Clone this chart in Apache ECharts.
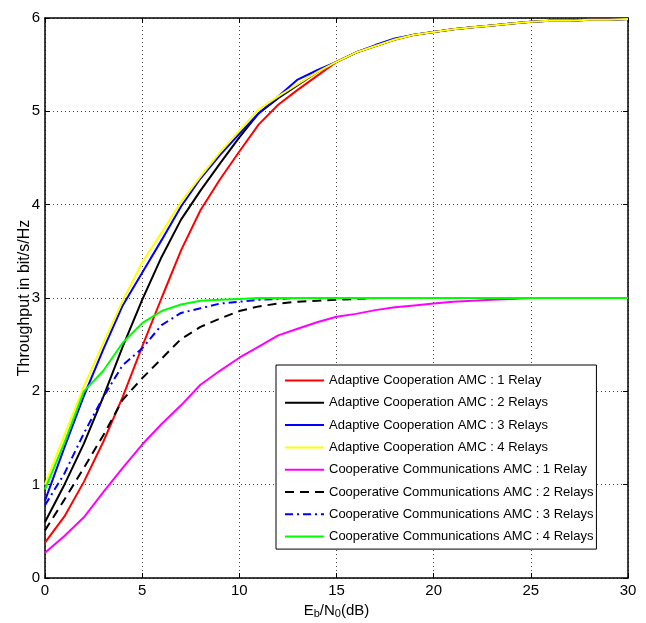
<!DOCTYPE html>
<html>
<head>
<meta charset="utf-8">
<script src="https://cdn.jsdelivr.net/npm/echarts@6/dist/echarts.min.js"></script>
<style>html,body{margin:0;padding:0;background:#fff}#c{width:646px;height:623px}</style>
</head>
<body>
<div id="c"></div>
<script>
var xValues = [0,1,2,3,4,5,6,7,8,9,10,11,12,13,14,15,16,17,18,19,20,21,22,23,24,25,26,27,28,29,30];
var seriesNames = [
  'Adaptive Cooperation AMC : 1 Relay',
  'Adaptive Cooperation AMC : 2 Relays',
  'Adaptive Cooperation AMC : 3 Relays',
  'Adaptive Cooperation AMC : 4 Relays',
  'Cooperative Communications AMC : 1 Relay',
  'Cooperative Communications AMC : 2 Relays',
  'Cooperative Communications AMC : 3 Relays',
  'Cooperative Communications AMC : 4 Relays'
];
var adaptive1 = [0.38,0.66,1.03,1.46,1.94,2.48,3.00,3.51,3.94,4.27,4.57,4.86,5.07,5.23,5.38,5.53,5.63,5.70,5.77,5.82,5.85,5.88,5.90,5.92,5.94,5.96,5.97,5.97,5.98,5.98,5.99];
var adaptive2 = [0.60,1.00,1.44,1.94,2.48,2.98,3.44,3.84,4.15,4.44,4.72,4.98,5.14,5.28,5.42,5.53,5.63,5.70,5.77,5.82,5.85,5.88,5.90,5.92,5.94,5.96,5.97,5.97,5.98,5.98,5.99];
var adaptive3 = [0.83,1.40,1.95,2.45,2.92,3.27,3.62,3.98,4.28,4.53,4.76,4.98,5.16,5.34,5.44,5.53,5.63,5.71,5.78,5.82,5.85,5.88,5.90,5.92,5.94,5.96,5.97,5.97,5.98,5.98,5.99];
var adaptive4 = [1.00,1.53,2.05,2.52,2.97,3.38,3.70,4.03,4.30,4.56,4.79,5.02,5.16,5.29,5.42,5.53,5.63,5.70,5.77,5.82,5.85,5.88,5.90,5.92,5.94,5.96,5.97,5.97,5.98,5.98,5.99];
var coop1 = [0.27,0.45,0.65,0.92,1.18,1.43,1.65,1.85,2.07,2.22,2.36,2.48,2.60,2.67,2.74,2.80,2.83,2.87,2.90,2.92,2.94,2.96,2.97,2.98,2.99,3.00,3.00,3.00,3.00,3.00,3.00];
var coop2 = [0.51,0.84,1.18,1.53,1.91,2.14,2.35,2.56,2.69,2.78,2.86,2.91,2.94,2.96,2.97,2.98,2.99,3.00,3.00,3.00,3.00,3.00,3.00,3.00,3.00,3.00,3.00,3.00,3.00,3.00,3.00];
var coop3 = [0.78,1.12,1.55,1.94,2.28,2.46,2.71,2.84,2.89,2.94,2.96,2.98,2.99,3.00,3.00,3.00,3.00,3.00,3.00,3.00,3.00,3.00,3.00,3.00,3.00,3.00,3.00,3.00,3.00,3.00,3.00];
var coop4 = [0.95,1.45,2.00,2.22,2.52,2.73,2.86,2.93,2.97,2.98,2.99,3.00,3.00,3.00,3.00,3.00,3.00,3.00,3.00,3.00,3.00,3.00,3.00,3.00,3.00,3.00,3.00,3.00,3.00,3.00,3.00];
var xTicks = [0,5,10,15,20,25,30];
var yTicks = [0,1,2,3,4,5,6];

var allData = [adaptive1, adaptive2, adaptive3, adaptive4, coop1, coop2, coop3, coop4];
var colors = ['#ff0000','#000000','#0000ff','#ffff00','#ff00ff','#000000','#0000ff','#00ff00'];
var dashes = ['solid','solid','solid','solid','solid',[9,6],[8,4,2,4],'solid'];

function pairs(arr){ return xValues.map(function(x,i){ return [x, arr[i]]; }); }

var font = 'Liberation Sans, Arial, Helvetica, sans-serif';
var series = allData.map(function(d, i){
  return {
    name: seriesNames[i],
    type: 'line',
    xAxisIndex: 0, yAxisIndex: 0,
    data: pairs(d),
    symbol: 'none',
    showSymbol: false,
    smooth: false,
    itemStyle: { color: colors[i] },
    lineStyle: { color: colors[i], width: 2, type: dashes[i] },
    z: 3 + i
  };
});

var chart = echarts.init(document.getElementById('c'), null, {renderer: 'canvas'});
var gridLine = { show: true, lineStyle: { color: '#444', width: 1, type: [1,3] } };
chart.setOption({
  animation: false,
  backgroundColor: '#fff',
  textStyle: { fontFamily: font },
  grid: { left: 45, right: 18, top: 18, bottom: 45, containLabel: false, outerBoundsMode: 'none' },
  legend: {
    orient: 'vertical',
    left: 276, top: 365,
    data: seriesNames,
    itemWidth: 39, itemHeight: 14, itemGap: 9.3,
    padding: [9, 3, 6, 8],
    borderColor: '#000', borderWidth: 1,
    backgroundColor: '#fff',
    itemStyle: { opacity: 0 },
    textStyle: { fontSize: 13, color: '#000', fontFamily: font },
    z: 20
  },
  xAxis: [{
    type: 'value', min: 0, max: 30, interval: 5, position: 'bottom',
    axisLine: { show: true, onZero: false, lineStyle: { color: '#000', width: 1.5 } },
    axisTick: { show: true, inside: true, length: 5, lineStyle: { color: '#000' } },
    axisLabel: { color: '#000', fontSize: 15, margin: 5, fontFamily: font,
      formatter: function(v){ return xTicks.indexOf(v) >= 0 ? String(v) : ''; } },
    splitLine: gridLine,
    name: '{n|E}{s|b}{n|/N}{s|0}{n|(dB)}',
    nameLocation: 'middle', nameGap: 22,
    nameTextStyle: { rich: {
      n: { fontSize: 15, color: '#000', fontFamily: font },
      s: { fontSize: 11, color: '#000', fontFamily: font, verticalAlign: 'bottom', padding: [8,0,0,0] }
    } }
  }, {
    type: 'value', min: 0, max: 30, interval: 5, position: 'top',
    axisLine: { show: true, onZero: false, lineStyle: { color: '#000', width: 1.5 } },
    axisTick: { show: true, inside: true, length: 5, lineStyle: { color: '#000' } },
    axisLabel: { show: false }, splitLine: { show: false }
  }],
  yAxis: [{
    type: 'value', min: 0, max: 6, interval: 1, position: 'left',
    axisLine: { show: true, onZero: false, lineStyle: { color: '#000', width: 1.5 } },
    axisTick: { show: true, inside: true, length: 5, lineStyle: { color: '#000' } },
    axisLabel: { color: '#000', fontSize: 15, margin: 5, fontFamily: font,
      formatter: function(v){ return yTicks.indexOf(v) >= 0 ? String(v) : ''; } },
    splitLine: gridLine,
    name: 'Throughput in bit/s/Hz',
    nameLocation: 'middle', nameGap: 12, nameRotate: 90, nameMoveOverlap: false,
    nameTextStyle: { fontSize: 16, color: '#000', fontFamily: font }
  }, {
    type: 'value', min: 0, max: 6, interval: 1, position: 'right',
    axisLine: { show: true, onZero: false, lineStyle: { color: '#000', width: 1.5 } },
    axisTick: { show: true, inside: true, length: 5, lineStyle: { color: '#000' } },
    axisLabel: { show: false }, splitLine: { show: false }
  }],
  series: series
});
</script>
</body>
</html>
